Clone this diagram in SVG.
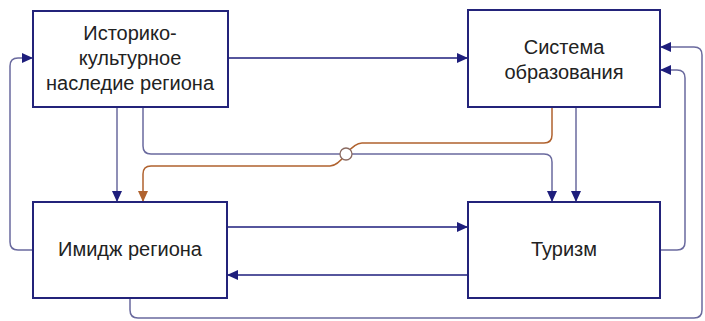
<svg xmlns="http://www.w3.org/2000/svg" width="705" height="321" viewBox="0 0 705 321">
<style>
.box{fill:#fff;stroke:#23237a;stroke-width:2}
.t{font-family:"Liberation Sans",Arial,sans-serif;font-size:20px;fill:#222;text-anchor:middle}
.c{fill:none;stroke-width:1.5}
.n{stroke:#1e1e7c}
.g{stroke:#6a6a9e}
.b{stroke:#b0622e}
</style>
<defs>
<marker id="an" markerUnits="userSpaceOnUse" markerWidth="12" markerHeight="10" refX="11" refY="5" orient="auto"><path d="M0,0 L11,5 L0,10 Z" fill="#1e1e7c"/></marker>
<marker id="ab" markerUnits="userSpaceOnUse" markerWidth="12" markerHeight="10" refX="11" refY="5" orient="auto"><path d="M0,0 L11,5 L0,10 Z" fill="#b0622e"/></marker>
</defs>
<g id="connectors">
<path class="c n" d="M228,58 H468" marker-end="url(#an)"/>
<path class="c g" d="M117,107 V202" marker-end="url(#an)"/>
<path class="c g" d="M143,107 V146 Q143,154 151,154 H544 Q552,154 552,162 V202" marker-end="url(#an)"/>
<path class="c b" d="M552,107 V135 Q552,143 544,143 H362 Q355,143 346,154 Q337,166 330,166 H151 Q143,166 143,174 V202" marker-end="url(#ab)"/>
<circle cx="346" cy="154" r="6" fill="#fff" stroke="#8a6a60" stroke-width="1.3"/>
<path class="c g" d="M576,107 V202" marker-end="url(#an)"/>
<path class="c n" d="M227,227 H468" marker-end="url(#an)"/>
<path class="c n" d="M468,275 H227" marker-end="url(#an)"/>
<path class="c g" d="M660,250 H677 Q685,250 685,242 V78 Q685,70 677,70 H660" marker-end="url(#an)"/>
<path class="c g" d="M130,298 V310 Q130,318 138,318 H694 Q702,318 702,310 V55 Q702,47 694,47 H660" marker-end="url(#an)"/>
<path class="c g" d="M33,250 H18 Q10,250 10,242 V66 Q10,58 18,58 H33" marker-end="url(#an)"/>
</g>
<g id="heritage">
<rect class="box" x="33" y="11" width="195" height="96"/>
<text class="t" x="130" y="40">Историко-</text>
<text class="t" x="130" y="65">культурное</text>
<text class="t" x="130" y="90">наследие региона</text>
</g>
<g id="education">
<rect class="box" x="468" y="10" width="192" height="97"/>
<text class="t" x="564" y="54">Система</text>
<text class="t" x="564" y="79">образования</text>
</g>
<g id="image">
<rect class="box" x="33" y="202" width="194" height="96"/>
<text class="t" x="130" y="256">Имидж региона</text>
</g>
<g id="tourism">
<rect class="box" x="468" y="202" width="192" height="96"/>
<text class="t" x="564" y="256">Туризм</text>
</g>
</svg>
